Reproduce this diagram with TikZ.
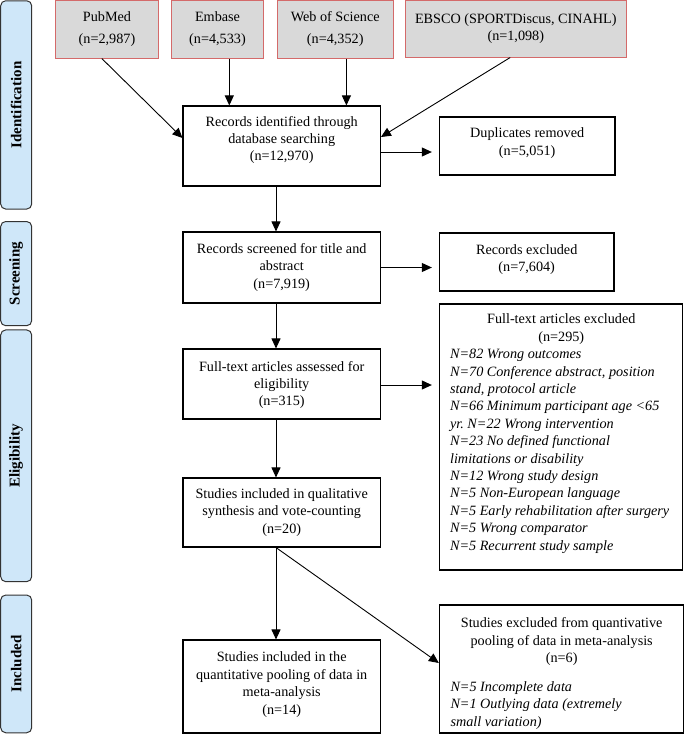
\documentclass[tikz,border=0pt]{standalone}
\usepackage{fontspec}
\setmainfont{Liberation Serif}[
  UprightFont = {Liberation Serif},
  BoldFont = {Liberation Serif Bold},
  ItalicFont = {Liberation Serif Italic},
  BoldItalicFont = {Liberation Serif Bold Italic}]
\usetikzlibrary{arrows.meta,calc}
\definecolor{greyfill}{HTML}{D9D9D9}
\definecolor{redline}{HTML}{D46A6A}
\definecolor{bannerfill}{HTML}{CFE7F9}
\definecolor{bannerline}{HTML}{333333}
\newcommand{\ctrline}[1]{\makebox[222.3pt][c]{#1}}
\begin{document}
\begin{tikzpicture}[x=1pt,y=-1pt,
  every node/.style={font=\fontsize{14.2}{17.4}\selectfont},
  box/.style={draw=black, line width=1.1pt, fill=white, inner sep=0pt},
  src/.style={draw=redline, line width=1pt, fill=greyfill, inner sep=0pt, align=center},
  txt/.style={inner sep=0pt, align=center},
  para/.style={inner sep=0pt, align=left, anchor=west},
  banner/.style={draw=bannerline, line width=1pt, fill=bannerfill, rounded corners=5pt,
    rotate=90, inner sep=0pt, font=\fontsize{15}{18}\selectfont\bfseries},
  arr/.style={-{Triangle[length=10pt,width=9pt]}, line width=0.9pt}
]
\useasboundingbox (0,0) rectangle (685,734);

% stage banners
\node[banner, minimum width=208.3pt, minimum height=31pt] (bid) at (16.2,104.9) {Identification};
\node[banner, minimum width=104.2pt, minimum height=31pt] (bsc) at (16.2,273.6) {Screening};
\node[banner, minimum width=251.7pt, minimum height=31pt] (bel) at (16.2,455.8) {Eligibility};
\node[banner, minimum width=137.7pt, minimum height=31pt] (bin) at (16.2,663.9) {Included};

% database boxes
\node[src, minimum width=103pt, minimum height=57.5pt] (pubmed) at (107,29.25) {PubMed\\[4.6pt](n=2,987)};
\node[src, minimum width=92.6pt, minimum height=57.5pt] (embase) at (217.5,29.25) {Embase\\[4.6pt](n=4,533)};
\node[src, minimum width=115.7pt, minimum height=57.5pt] (wos) at (335.25,29.25) {Web of Science\\[4.6pt](n=4,352)};
\node[src, minimum width=221pt, minimum height=56.5pt] (ebsco) at (515.8,28.75) {EBSCO (SPORTDiscus, CINAHL)\\(n=1,098)};

% main boxes
\node[box, minimum width=197.4pt, minimum height=80pt] (rec) at (281.7,146) {};
\node[txt] (rect) at (281.7,140) {Records identified through\\database searching\\(n=12,970)};

\node[box, minimum width=175.6pt, minimum height=58pt] (dup) at (527.2,146) {};
\node[txt] (dupt) at (527.2,143) {Duplicates removed\\(n=5,051)};

\node[box, minimum width=197.4pt, minimum height=71pt] (scr) at (281.7,267.5) {};
\node[txt] (scrt) at (281.7,267.5) {Records screened for title and\\abstract\\(n=7,919)};

\node[box, minimum width=174.6pt, minimum height=58pt] (exc) at (526.7,262) {};
\node[txt] (exct) at (526.7,259.5) {Records excluded\\(n=7,604)};

\node[box, minimum width=243.3pt, minimum height=266pt] (ftx) at (561.05,437) {};
\node[para] (ftxt) at (449.9,433.5) {\ctrline{Full-text articles excluded}\\
\ctrline{(n=295)}\\
\itshape N=82 Wrong outcomes\\
\itshape N=70 Conference abstract, position\\
\itshape stand, protocol article\\
\itshape N=66 Minimum participant age <65\\
\itshape yr.\ N=22 Wrong intervention\\
\itshape N=23 No defined functional\\
\itshape limitations or disability\\
\itshape N=12 Wrong study design\\
\itshape N=5 Non-European language\\
\itshape N=5 Early rehabilitation after surgery\\
\itshape N=5 Wrong comparator\\
\itshape N=5 Recurrent study sample};

\node[box, minimum width=197.4pt, minimum height=70pt] (fta) at (281.7,384) {};
\node[txt] (ftat) at (281.7,385) {Full-text articles assessed for\\eligibility\\(n=315)};

\node[box, minimum width=197.4pt, minimum height=69pt] (qual) at (281.7,512.5) {};
\node[txt] (qualt) at (281.7,512.5) {Studies included in qualitative\\synthesis and vote-counting\\(n=20)};

\node[box, minimum width=197.4pt, minimum height=93pt] (quant) at (281.7,686.5) {};
\node[txt] (quantt) at (281.7,684.5) {Studies included in the\\quantitative pooling of data in\\meta-analysis\\(n=14)};

\node[box, minimum width=244.1pt, minimum height=128pt] (sexc) at (561.45,669) {};
\node[para] (sexct) at (450.3,673.5) {\ctrline{Studies excluded from quantivative}\\
\ctrline{pooling of data in meta-analysis}\\
\ctrline{(n=6)}\\[11.6pt]
\itshape N=5 Incomplete data\\
\itshape N=1 Outlying data (extremely\\
\itshape small variation)};

% connectors
\coordinate (pa) at ($(pubmed.south)+(-5.2,0)$);
\draw[arr] (pa) -- ($(rec.west)+(0,-8)$);
\coordinate (ea) at ($(embase.south)+(11.8,0)$);
\draw[arr] (ea) -- (ea |- rec.north);
\coordinate (wa) at ($(wos.south)+(11.15,0)$);
\draw[arr] (wa) -- (wa |- rec.north);
\coordinate (eba) at ($(ebsco.south)+(-5.6,0)$);
\draw[arr] (eba) -- ($(rec.east)+(0,-9)$);
\coordinate (ra) at ($(rec.east)+(0,6)$);
\draw[arr, shorten >=7pt] (ra) -- (ra -| dup.west);
\coordinate (va) at ($(rec.south)+(-5.7,0)$);
\draw[arr] (va) -- (va |- scr.north);
\draw[arr, shorten >=7pt] (scr.east) -- (scr.east -| exc.west);
\coordinate (vb) at ($(scr.south)+(-5.7,0)$);
\draw[arr] (vb) -- (vb |- fta.north);
\coordinate (fa) at ($(fta.east)+(0,1)$);
\draw[arr, shorten >=7pt] (fa) -- (fa -| ftx.west);
\coordinate (vc) at ($(fta.south)+(-5.7,0)$);
\draw[arr] (vc) -- (vc |- qual.north);
\coordinate (vd) at ($(qual.south)+(-5.7,0)$);
\draw[arr] (vd) -- (vd |- quant.north);
\draw[arr] (vd) -- ($(sexc.west)+(0,-6)$);
\end{tikzpicture}
\end{document}
